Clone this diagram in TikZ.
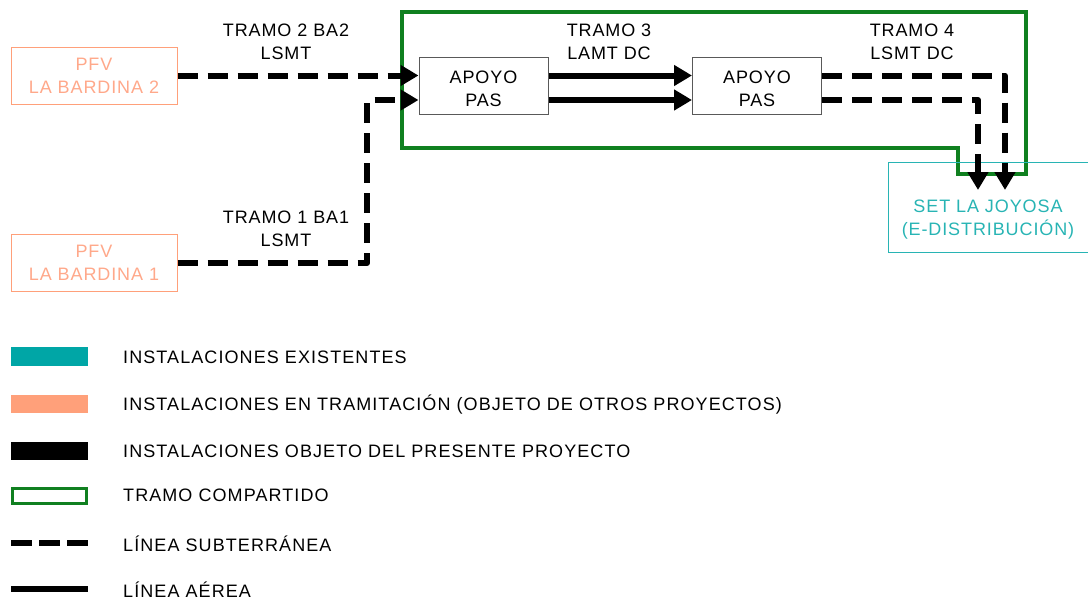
\documentclass[tikz,border=0pt]{standalone}
\usepackage{fontspec}
\setmainfont[LetterSpace=5]{Liberation Sans}
\newfontfamily\legfont[LetterSpace=6]{Liberation Sans}
\usetikzlibrary{arrows.meta}

\definecolor{salmon}{RGB}{255,160,122}
\definecolor{salmontxt}{RGB}{255,168,138}
\definecolor{teal}{RGB}{0,166,166}
\definecolor{tealtxt}{RGB}{40,180,180}
\definecolor{verde}{RGB}{16,128,32}

\tikzset{
    txt/.style={font=\fontsize{18}{23}\selectfont, align=center, inner sep=0pt},
    pfvbox/.style={draw=salmon, line width=1pt, minimum width=166pt, minimum height=57pt, text=salmontxt, txt},
    apoyobox/.style={draw=black!65, line width=1pt, minimum width=129pt, minimum height=57pt},
    setbox/.style={draw=tealtxt, line width=1pt, minimum width=212pt, minimum height=90pt},
    subt/.style={line width=6pt, dash pattern=on 20pt off 10pt, line join=round, -{Triangle[length=18pt,width=20pt]}},
    aerea/.style={line width=6pt, -{Triangle[length=18pt,width=20pt]}},
    legtxt/.style={font=\legfont\fontsize{18}{21}\selectfont, anchor=west, inner sep=0pt}
}

\begin{document}
\begin{tikzpicture}[x=1pt, y=-1pt]
        \useasboundingbox (0,0) rectangle (1088,600);

        % tramo compartido
        \draw[verde, line width=4pt] (402,12) -- (1026,12) -- (1026,174) -- (958,174) -- (958,148) -- (402,148) -- cycle;

        \node[pfvbox] (pfv2) at (94,75.5) {PFV\\LA BARDINA 2};
        \node[pfvbox] (pfv1) at (94,263) {PFV\\LA BARDINA 1};
        \node[apoyobox, label={[txt, yshift=-3pt]center:APOYO\\PAS}] (apoyoA) at (483.5,85.5) {};
        \node[apoyobox, label={[txt, yshift=-3pt]center:APOYO\\PAS}] (apoyoB) at (757,85.5) {};
        \node[setbox, label={[txt, text=tealtxt, yshift=-13pt, xshift=-6pt]center:SET LA JOYOSA\\(E-DISTRIBUCIÓN)}] (set) at (994,207) {};

        \coordinate (c1) at (367,100);
        \coordinate (t4a) at (1005,190);
        \coordinate (t4b) at (978,190);

        % tramos
        \draw[subt] (pfv2.east) -- (pfv2.east -| apoyoA.west);
        \draw[subt] (pfv1.east) -| (c1) -- (c1 -| apoyoA.west);
        \draw[aerea] ([yshift=10pt]apoyoA.east) -- ([yshift=10pt]apoyoB.west);
        \draw[aerea] ([yshift=-14.5pt]apoyoA.east) -- ([yshift=-14.5pt]apoyoB.west);
        \draw[subt] ([yshift=10pt]apoyoB.east) -| (t4a);
        \draw[subt] ([yshift=-14.5pt]apoyoB.east) -| (t4b);

        \node[txt] (l2) at (286,41.5) {TRAMO 2 BA2\\LSMT};
        \node[txt] (l1) at (286,229) {TRAMO 1 BA1\\LSMT};
        \node[txt] (l3) at (609,41.5) {TRAMO 3\\LAMT DC};
        \node[txt] (l4) at (912,41.5) {TRAMO 4\\LSMT DC};

        % leyenda
        \fill[teal] (11,347) rectangle (88,366);
        \fill[salmon] (11,395) rectangle (88,413);
        \fill[black] (11,442) rectangle (88,460);
        \draw[verde, line width=3pt] (12.5,488.5) rectangle (86.5,503.5);
        \draw[line width=6pt, dash pattern=on 21pt off 7pt] (11,543) -- (88,543);
        \draw[line width=6pt] (11,589) -- (88,589);

        \node[legtxt] (e1) at (123,357) {INSTALACIONES EXISTENTES};
        \node[legtxt] (e2) at (123,405) {INSTALACIONES EN TRAMITACIÓN (OBJETO DE OTROS PROYECTOS)};
        \node[legtxt] (e3) at (123,451) {INSTALACIONES OBJETO DEL PRESENTE PROYECTO};
        \node[legtxt] (e4) at (123,495) {TRAMO COMPARTIDO};
        \node[legtxt] (e5) at (123,544) {LÍNEA SUBTERRÁNEA};
        \node[legtxt] (e6) at (123,590) {LÍNEA AÉREA};
\end{tikzpicture}
\end{document}
